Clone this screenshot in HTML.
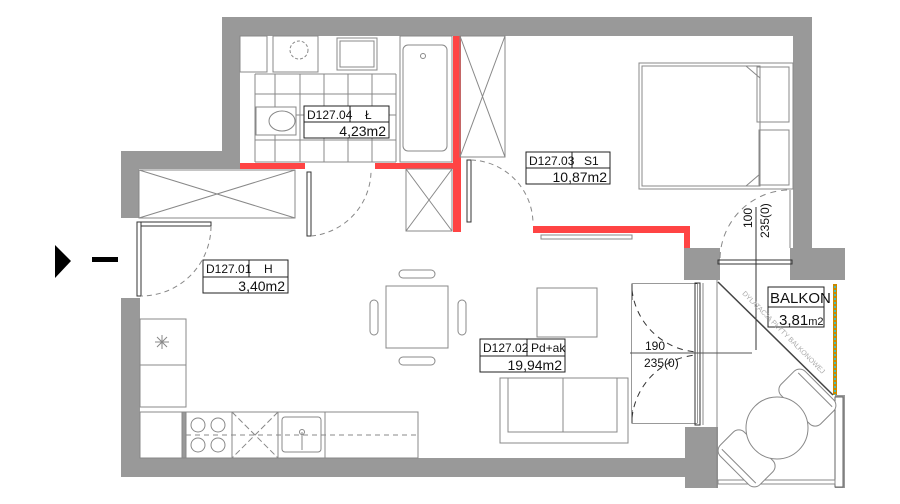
<!DOCTYPE html>
<html><head><meta charset="utf-8"><style>
html,body{margin:0;padding:0;background:#fff;}
svg{display:block;}
text{font-family:"Liberation Sans",sans-serif;fill:#111;}
</style></head><body>
<svg width="900" height="504" viewBox="0 0 900 504" xmlns="http://www.w3.org/2000/svg">
<g fill="#999">
<rect x="222" y="17" width="590" height="19"/>
<rect x="222" y="17" width="18" height="146"/>
<rect x="121" y="151" width="119" height="18"/>
<rect x="121" y="151" width="18" height="67"/>
<rect x="793" y="17" width="19" height="240"/>
<rect x="790" y="248" width="55" height="32"/>
<rect x="684" y="248" width="36" height="32"/>
<rect x="121" y="298" width="19" height="179"/>
<rect x="121" y="458" width="564" height="19"/>
<rect x="685" y="427" width="33" height="61"/>
<rect x="835" y="395" width="10" height="93"/>
</g>
<rect x="835" y="397" width="8" height="90" fill="#fff" stroke="#666" stroke-width="1"/>
<g fill="#f44">
<rect x="240" y="163" width="65" height="6"/>
<rect x="375" y="163" width="85" height="6"/>
<rect x="453" y="36" width="8" height="196"/>
<rect x="533" y="226" width="157" height="7"/>
<rect x="684" y="226" width="6" height="22"/>
</g>
<g fill="none" stroke="#888" stroke-width="1">
<rect x="240" y="36" width="27" height="36"/>
<rect x="273" y="36" width="45" height="36"/>
<circle cx="299" cy="50" r="9" stroke-dasharray="3,2"/>
<rect x="337" y="38" width="40" height="32"/>
<rect x="340" y="41" width="34" height="26"/>
<rect x="400" y="36" width="52" height="126"/>
<rect x="403" y="45" width="44" height="106" rx="5"/>
<circle cx="423" cy="56" r="2.5"/>
<path d="M255 74H396M255 94H396M255 115H396M255 140H396M255 162H396"/>
<path d="M255 74V162M275 74V162M300 74V162M324 74V162M348 74V162M372 74V162M396 74V162"/>
<rect x="256" y="107" width="40" height="28" fill="#fff"/>
<ellipse cx="282" cy="121" rx="13" ry="10"/>
<rect x="460" y="36" width="45" height="121"/>
<path d="M460 36L505 157M505 36L460 157"/>
<rect x="406" y="169" width="46" height="62"/>
<path d="M406 169L452 231M452 169L406 231"/>
<rect x="139" y="170" width="156" height="48"/>
<path d="M139 170L295 218M295 170L139 218"/>
<rect x="307" y="172" width="4" height="64" stroke="#333"/>
<path d="M311 236A66 66 0 0 0 371 172" stroke-dasharray="5,4"/>
<rect x="137" y="222" width="4" height="74" stroke="#333"/>
<rect x="141" y="222" width="70" height="4" stroke="#333"/>
<path d="M211 226A70 70 0 0 1 141 296" stroke-dasharray="5,4"/>
<rect x="467" y="160" width="4" height="62" stroke="#333"/>
<path d="M471 160A64 64 0 0 1 533 224" stroke-dasharray="5,4"/>
<rect x="541" y="235" width="91" height="4"/>
<rect x="639" y="63" width="154" height="126"/>
<rect x="642" y="66" width="118" height="120"/>
<rect x="757" y="67" width="32" height="55"/>
<rect x="759" y="130" width="30" height="55"/>
<path d="M746 66L760 78M746 186L760 174"/>
<path d="M790 190V248"/>
<path d="M720 258A70 70 0 0 1 790 190" stroke-dasharray="6,5"/>
<rect x="718" y="260" width="74" height="4" stroke="#333"/>
<rect x="386" y="286" width="62" height="62"/>
<rect x="399" y="270" width="36" height="8" rx="4"/>
<rect x="399" y="357" width="36" height="8" rx="4"/>
<rect x="370" y="300" width="8" height="35" rx="4"/>
<rect x="458" y="300" width="8" height="35" rx="4"/>
<rect x="537" y="288" width="60" height="49"/>
<rect x="500" y="378" width="128" height="65"/>
<rect x="508" y="378" width="55" height="54"/>
<rect x="563" y="378" width="54" height="54"/>
<rect x="140" y="319" width="46" height="46"/>
<path d="M162 335V349M155 342H169M157 337L167 347M167 337L157 347"/>
<rect x="140" y="365" width="46" height="42"/>
<rect x="140" y="412" width="42" height="46"/>
<rect x="182" y="412" width="4" height="46" fill="#999"/>
<rect x="186" y="412" width="46" height="46"/>
<circle cx="198" cy="425" r="7"/><circle cx="218" cy="425" r="7"/>
<circle cx="198" cy="445" r="7"/><circle cx="218" cy="445" r="7"/>
<rect x="232" y="412" width="46" height="46"/>
<path d="M232 412L278 458M278 412L232 458" stroke-dasharray="6,3"/>
<rect x="278" y="412" width="47" height="46"/>
<rect x="282" y="417" width="39" height="35" rx="3"/>
<path d="M302 432V450"/><circle cx="302" cy="432" r="2.5"/>
<rect x="325" y="412" width="93" height="46"/>
<path d="M186 435H418" stroke-dasharray="5,4"/>
<rect x="632" y="284" width="65" height="139" stroke="#333"/>
<rect x="633" y="285" width="63" height="137" stroke="#fff" stroke-width="2"/>
<path d="M632 284V300M632 410V423" stroke="#333"/>
<path d="M632 290A70 70 0 0 0 697 352M632 418A70 70 0 0 1 697 355" stroke-dasharray="6,5" stroke="#333"/>
<rect x="695" y="283" width="5" height="142" stroke="#333"/>
<path d="M703 283V425M717 280V488"/>
<path d="M630 353H752" stroke="#555"/>
<path d="M756 207V350" stroke="#333"/>
<path d="M718 282L833 395" stroke="#444" stroke-width="1.5"/>
<rect x="718" y="480" width="117" height="4"/>
<g transform="rotate(45 777 428)">
<rect x="749" y="368" width="56" height="34" rx="8" fill="#fff"/>
<path d="M753 374h48"/>
<rect x="749" y="454" width="56" height="34" rx="8" fill="#fff"/>
<path d="M753 482h48"/>
</g>
<circle cx="777" cy="428" r="31" fill="#fff"/>
</g>
<rect x="833" y="284" width="4" height="111" fill="#c80"/>
<path d="M835 286V395" stroke="#4bb" stroke-width="2" stroke-dasharray="2,2"/>
<g fill="#fff" stroke="#222" stroke-width="1">
<rect x="304" y="106" width="85" height="32"/>
<rect x="526" y="152" width="84" height="32"/>
<rect x="203" y="260" width="85" height="33"/>
<rect x="480" y="339" width="85" height="33"/>
<rect x="768" y="287" width="56" height="40"/>
</g>
<text x="782" y="334" font-size="7" transform="rotate(45 782 334)" text-anchor="middle" style="fill:#aaa">DYLATACJA PŁYTY BALKONOWEJ</text>
<g stroke="#222" stroke-width="1">
<path d="M304 122H389M350 106V122"/>
<path d="M526 168H610M572 152V168"/>
<path d="M203 277H288M249 260V277"/>
<path d="M480 356H565M527 339V356"/>
<path d="M768 307H824"/>
</g>
<g font-size="12">
<text x="307" y="119">D127.04</text><text x="365" y="119">Ł</text>
<text x="386" y="136" text-anchor="end" font-size="14">4,23m2</text>
<text x="529" y="165">D127.03</text><text x="584" y="165">S1</text>
<text x="607" y="182" text-anchor="end" font-size="14">10,87m2</text>
<text x="206" y="273">D127.01</text><text x="264" y="273">H</text>
<text x="285" y="291" text-anchor="end" font-size="14">3,40m2</text>
<text x="483" y="352">D127.02</text><text x="531" y="352">Pd+ak</text>
<text x="562" y="370" text-anchor="end" font-size="14">19,94m2</text>
<text x="770" y="303" font-size="15">BALKON</text>
<text x="779" y="325" font-size="15">3,81<tspan font-size="11">m2</tspan></text>
<text x="645" y="350">190</text>
<text x="644" y="367">235(0)</text>
<text transform="translate(752,228) rotate(-90)">100</text>
<text transform="translate(769,238) rotate(-90)">235(0)</text>
</g>
<path d="M55 245L71 261L55 278Z" fill="#000"/>
<rect x="92" y="257" width="26" height="5" fill="#000"/>
</svg>
</body></html>
